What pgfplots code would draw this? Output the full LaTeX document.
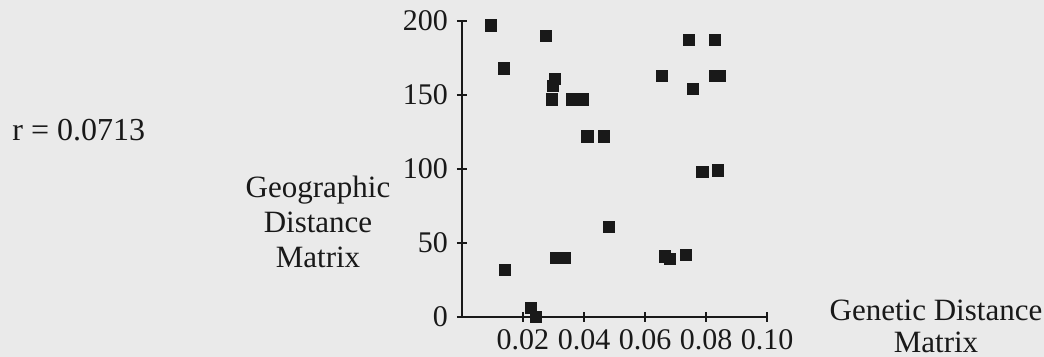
\documentclass[border=0pt]{standalone}
\usepackage{pgfplots}
\pgfplotsset{compat=1.18}
\usepackage{fontspec}
\setmainfont{Liberation Serif}
\definecolor{paper}{RGB}{234,234,234}
\definecolor{ink}{RGB}{25,25,25}
\begin{document}
\begin{tikzpicture}[x=1pt,y=1pt]
\fill[paper,use as bounding box] (-231,-20) rectangle (291,158.5);
\begin{axis}[
  at={(0,0)}, anchor=south west,
  scale only axis, width=152.5pt, height=148pt,
  xmin=0, xmax=0.10, ymin=0, ymax=200,
  axis x line=bottom, axis y line=left,
  axis line style={ink, line width=1pt, -},
  every tick/.style={ink, line width=0.8pt},
  tick align=center, major tick length=5pt,
  xtick={0.02,0.04,0.06,0.08,0.10},
  xticklabels={0.02,0.04,0.06,0.08,0.10},
  ytick={0,50,100,150,200},
  yticklabels={0,50,100,150,200},
  /pgf/number format/assume math mode=true,
  tick label style={font=\fontsize{15}{16}\selectfont, text=ink},
  xticklabel style={yshift=0pt},
  yticklabel style={xshift=-1pt},
  clip=false,
]
\addplot[only marks, mark=square*, mark size=2.8pt, mark options={fill=ink, draw=ink}] coordinates {
 (0.0094,197) (0.0274,190) (0.0138,168) (0.0305,161) (0.0299,156) (0.0296,147)
 (0.0360,147) (0.0380,147) (0.0396,147)
 (0.0411,122) (0.0466,122)
 (0.0656,163) (0.0745,187) (0.0830,187) (0.0756,154)
 (0.0830,163) (0.0846,163)
 (0.0788,98) (0.0840,99)
 (0.0141,32) (0.0308,40) (0.0338,40) (0.0481,61)
 (0.0666,41) (0.0682,39) (0.0733,42)
 (0.0225,6) (0.0242,0)
};
\end{axis}
\node[anchor=west, text=ink, font=\fontsize{16}{17}\selectfont, inner sep=0] at (-225,93.5) {r = 0.0713};
\node[align=center, text=ink, font=\fontsize{15.5}{17.5}\selectfont, inner sep=0] at (-72,47.5) {Geographic\\Distance\\Matrix};
\node[align=center, text=ink, font=\fontsize{15.5}{16}\selectfont, inner sep=0] at (237,-4.5) {Genetic Distance\\Matrix};
\end{tikzpicture}
\end{document}
